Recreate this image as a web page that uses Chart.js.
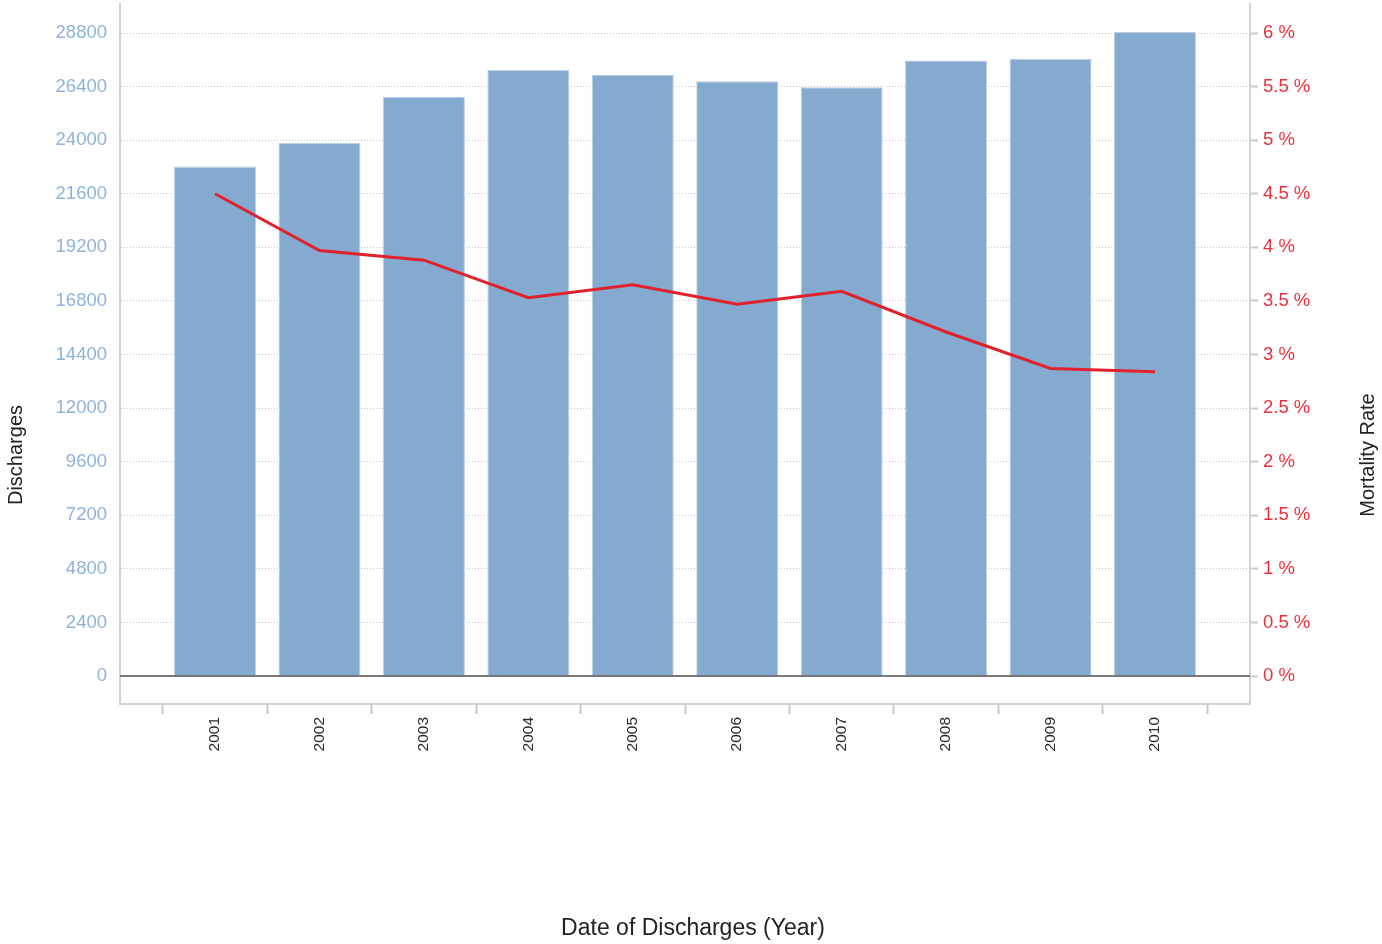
<!DOCTYPE html>
<html lang="en">
<head>
    <meta charset="UTF-8">
    <title>Discharges and Mortality Rate</title>
    <script src="https://cdn.jsdelivr.net/npm/chart.js"></script>
    <style>
        body { margin: 0; background: #ffffff; }
        canvas { display: block; }
    </style>
</head>
<body>
    <canvas id="chart" width="1382" height="944"></canvas>

    <script>
        const years = [2001, 2002, 2003, 2004, 2005, 2006, 2007, 2008, 2009, 2010];
        const discharges = [22816, 23879, 25938, 27149, 26925, 26638, 26369, 27566, 27643, 28845];
        const mortality = [4.50, 3.97, 3.88, 3.53, 3.65, 3.47, 3.59, 3.21, 2.87, 2.84];
        const dischargeTicks = [0, 2400, 4800, 7200, 9600, 12000, 14400, 16800, 19200, 21600, 24000, 26400, 28800];
        const mortalityTicks = [0, 0.5, 1, 1.5, 2, 2.5, 3, 3.5, 4, 4.5, 5, 5.5, 6];

        // axis ranges (right axis is the left one scaled, 6 % sits on 28800)
        const yMin = -1254, yMax = 30100, rateFactor = 4800;
        const xMin = 2000.09, xMax = 2010.91;
        const yearBounds = years.map(y => y - 0.5).concat(years[years.length - 1] + 0.5);

        const font = "'Liberation Sans', Arial, sans-serif";
        const gridGray = '#c8c8c8';
        const axisGray = '#d2d2d2';
        const sideTitleY = 455;

        // solid dark line on the zero value, drawn over the bars
        const zeroLine = {
            id: 'zeroLine',
            afterDatasetsDraw(chart) {
                const { ctx, chartArea, scales } = chart;
                const y = scales.y.getPixelForValue(0);
                ctx.save();
                ctx.strokeStyle = '#505050';
                ctx.lineWidth = 1.5;
                ctx.beginPath();
                ctx.moveTo(chartArea.left, y);
                ctx.lineTo(chartArea.right, y);
                ctx.stroke();
                ctx.restore();
            }
        };

        // axis titles: side ones read bottom to top, bottom one centred on the page
        const axisTitles = {
            id: 'axisTitles',
            afterDraw(chart) {
                const { ctx, scales } = chart;
                ctx.save();
                ctx.fillStyle = '#222222';
                ctx.textAlign = 'center';
                ctx.textBaseline = 'middle';
                ctx.font = '20px ' + font;
                [['Discharges', scales.y.left + 16], ['Mortality Rate', scales.y2.right - 14]].forEach(([text, x]) => {
                    ctx.save();
                    ctx.translate(x, sideTitleY);
                    ctx.rotate(-Math.PI / 2);
                    ctx.fillText(text, 0, 0);
                    ctx.restore();
                });
                ctx.font = '23px ' + font;
                ctx.fillText('Date of Discharges (Year)', chart.width / 2 + 2, scales.xLabels.bottom - 15);
                ctx.restore();
            }
        };

        const noPad = s => { s.paddingTop = 0; s.paddingBottom = 0; s.paddingLeft = 0; s.paddingRight = 0; };

        new Chart(document.getElementById('chart'), {
            type: 'bar',
            data: {
                labels: years,
                datasets: [
                    {
                        type: 'line',
                        label: 'Mortality Rate',
                        data: mortality,
                        yAxisID: 'y2',
                        borderColor: '#e1212b',
                        borderWidth: 3,
                        pointRadius: 0,
                        tension: 0,
                        order: 0
                    },
                    {
                        label: 'Discharges',
                        data: discharges,
                        yAxisID: 'y',
                        backgroundColor: '#85aacf',
                        borderColor: '#bccfe4',
                        borderWidth: 1,
                        categoryPercentage: 1,
                        barPercentage: 0.785,
                        order: 1
                    }
                ]
            },
            options: {
                responsive: false,
                animation: false,
                layout: { padding: { top: 4, left: 0, right: 0, bottom: 0 } },
                plugins: {
                    legend: { display: false },
                    tooltip: { enabled: false }
                },
                scales: {
                    x: {
                        type: 'linear',
                        position: 'bottom',
                        weight: 0,
                        offset: false,
                        min: xMin,
                        max: xMax,
                        afterBuildTicks: s => { s.ticks = yearBounds.map(v => ({ value: v })); },
                        afterFit: noPad,
                        ticks: { display: false },
                        grid: {
                            offset: false,
                            drawOnChartArea: false,
                            drawTicks: true,
                            tickLength: 10,
                            tickColor: gridGray,
                            tickWidth: 2
                        },
                        border: { display: true, color: axisGray, width: 2 }
                    },
                    xLabels: {
                        type: 'linear',
                        position: 'bottom',
                        weight: 1,
                        offset: false,
                        min: xMin,
                        max: xMax,
                        afterBuildTicks: s => { s.ticks = years.map(v => ({ value: v })); },
                        afterFit: s => { noPad(s); s.height = 230; },
                        ticks: {
                            callback: v => String(v),
                            autoSkip: false,
                            minRotation: 90,
                            maxRotation: 90,
                            padding: 3,
                            color: '#2a2a2a',
                            font: { family: font, size: 15.5 }
                        },
                        grid: { display: false, drawTicks: false, offset: false },
                        border: { display: false }
                    },
                    y: {
                        type: 'linear',
                        position: 'left',
                        min: yMin,
                        max: yMax,
                        afterBuildTicks: s => { s.ticks = dischargeTicks.map(v => ({ value: v })); },
                        afterFit: s => { noPad(s); s.width = 120; },
                        ticks: {
                            callback: v => String(v),
                            padding: 13,
                            color: '#8db3dc',
                            font: { family: font, size: 18.5 }
                        },
                        grid: {
                            color: gridGray,
                            lineWidth: 1,
                            drawTicks: false
                        },
                        border: { display: true, color: axisGray, width: 2, dash: [1, 2] }
                    },
                    y2: {
                        type: 'linear',
                        position: 'right',
                        min: yMin / rateFactor,
                        max: yMax / rateFactor,
                        afterBuildTicks: s => { s.ticks = mortalityTicks.map(v => ({ value: v })); },
                        afterFit: s => { noPad(s); s.width = 132; },
                        ticks: {
                            callback: v => v + ' %',
                            padding: 5,
                            color: '#e8303c',
                            font: { family: font, size: 18.5 }
                        },
                        grid: {
                            drawOnChartArea: false,
                            drawTicks: true,
                            tickLength: 8,
                            tickColor: gridGray,
                            tickWidth: 2
                        },
                        border: { display: true, color: axisGray, width: 2 }
                    }
                }
            },
            plugins: [zeroLine, axisTitles]
        });
    </script>
</body>
</html>
